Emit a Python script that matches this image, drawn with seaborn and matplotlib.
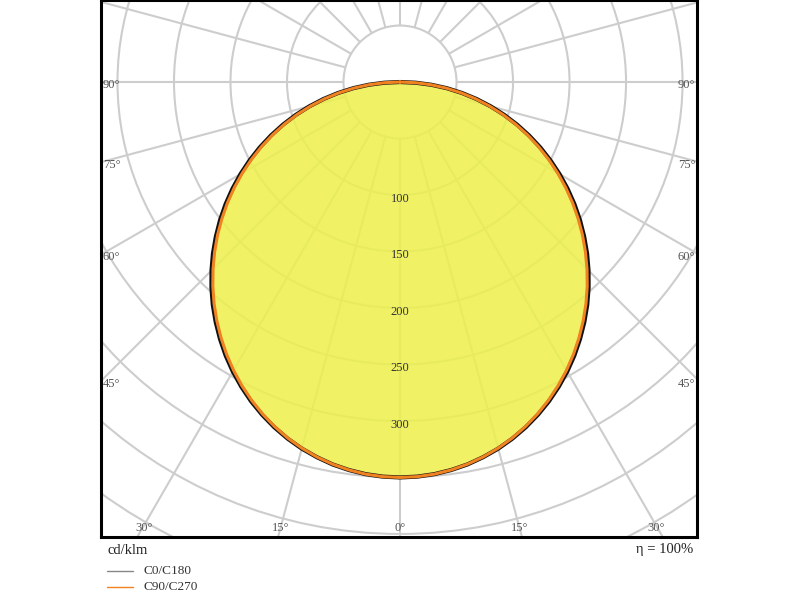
import numpy as np
import pandas as pd
import matplotlib.pyplot as plt
import seaborn as sns
from matplotlib.patches import Circle
from matplotlib.lines import Line2D

# Luminous intensity (cd/klm), gamma 0..90 deg (symmetric halves)
gamma = [0, 2.5, 5, 7.5, 10, 12.5, 15, 17.5, 20, 22.5, 25, 27.5, 30, 32.5, 35, 37.5,
         40, 42.5, 45, 47.5, 50, 52.5, 55, 57.5, 60, 62.5, 65, 67.5, 70, 72.5, 75,
         77.5, 80, 82.5, 85, 87.5, 90]
c0_c180 = [350, 349.6, 348.4, 346.4, 343.7, 340.1, 335.9, 330.9, 325.2, 318.8, 311.8,
           304.1, 295.9, 287.1, 277.7, 267.9, 257.7, 247.0, 235.9, 224.5, 212.7, 200.7,
           188.4, 175.8, 163.0, 150.0, 136.9, 123.6, 110.2, 96.6, 83.0, 69.3, 55.5,
           41.7, 27.8, 13.9, 0]
c90_c270 = [350, 349.6, 348.4, 346.3, 343.5, 339.9, 335.5, 330.4, 324.5, 318.0, 310.8,
            303.0, 294.6, 285.7, 276.2, 266.3, 256.0, 245.2, 234.0, 222.5, 210.8, 198.7,
            186.4, 173.8, 161.1, 148.2, 135.2, 122.0, 108.7, 95.3, 81.8, 68.3, 54.7,
            41.0, 27.4, 13.7, 0]
ring_labels = [100, 150, 200, 250, 300]
side_angles = [90, 75, 60, 45]
bottom_angles = [0, 15, 30]

sns.set_style('white')
plt.rcParams['font.family'] = ['Liberation Serif', 'DejaVu Serif']


def curve(vals):
    ang = np.r_[-np.array(gamma[::-1]), np.array(gamma[1:])]
    inten = np.r_[np.array(vals[::-1]), np.array(vals[1:])]
    t = np.deg2rad(ang)
    return pd.DataFrame({'x': inten * np.sin(t), 'y': inten * np.cos(t)})


fig = plt.figure(figsize=(8, 6), dpi=100)
ax = fig.add_axes([101 / 800, 63 / 600, 596 / 800, 537 / 600])

xmin, xmax = -264.6, 262.8
ymin, ymax = -72.6, 402.7
ax.set_xlim(xmin, xmax)
ax.set_ylim(ymax, ymin)

grid_c = '#cdcdcd'
# rings
for r in range(50, 600, 50):
    ax.add_patch(Circle((0, 0), r, fill=False, ec=grid_c, lw=1.5, zorder=1))
# spokes every 15 degrees, starting at the innermost ring
for a in range(0, 360, 15):
    t = np.deg2rad(a)
    ax.plot([50 * np.sin(t), 700 * np.sin(t)], [50 * np.cos(t), 700 * np.cos(t)],
            color=grid_c, lw=1.5, zorder=1, solid_capstyle='butt')

d0 = curve(c0_c180)
d90 = curve(c90_c270)
ax.fill(d0['x'], d0['y'], color='#eef04e', alpha=0.87, zorder=2, lw=0)
sns.lineplot(data=d0, x='x', y='y', sort=False, estimator=None, color='#111111', lw=3.0, ax=ax, zorder=3)
sns.lineplot(data=d90, x='x', y='y', sort=False, estimator=None, color='#f08222', lw=2.2, ax=ax, zorder=4)

# intensity labels on the vertical axis
for r in ring_labels:
    ax.text(0, r + 3.5, str(r), ha='center', va='center', fontsize=9, color='#333333', zorder=5)

# angle labels along the frame
for a in side_angles:
    y = 0 if a == 90 else -xmin / np.tan(np.deg2rad(a))
    ax.text(xmin + 1.5, y + 2.5, f'{a}°', ha='left', va='center', fontsize=9, color='#555555', zorder=5)
    ax.text(xmax - 1.5, y + 2.5, f'{a}°', ha='right', va='center', fontsize=9, color='#555555', zorder=5)
for a in bottom_angles:
    x = ymax * np.tan(np.deg2rad(a))
    shift = {0: 0, 15: 2, 30: 6}[a]
    ax.text(-(x - shift), ymax - 3, f'{a}°', ha='center', va='bottom', fontsize=9, color='#555555', zorder=5)
    if a:
        ax.text(x - shift, ymax - 3, f'{a}°', ha='center', va='bottom', fontsize=9, color='#555555', zorder=5)

ax.set_xticks([])
ax.set_yticks([])
ax.set_xlabel('')
ax.set_ylabel('')
for s in ax.spines.values():
    s.set_visible(True)
    s.set_color('black')
    s.set_linewidth(2.2)
    s.set_zorder(6)

# annotations below the frame
fig.text(107 / 800, 1 - 550 / 600, 'cd/klm', ha='left', va='center', fontsize=10.5, color='#222222')
fig.text(693 / 800, 1 - 550 / 600, 'η = 100%', ha='right', va='center', fontsize=10.5, color='#222222')
for yy, col, lab in [(571, '#888888', 'C0/C180'), (587, '#f08222', 'C90/C270')]:
    fig.add_artist(Line2D([107 / 800, 133 / 800], [1 - yy / 600, 1 - yy / 600], color=col, lw=1))
    fig.text(143 / 800, 1 - yy / 600, lab, ha='left', va='center', fontsize=9.5, color='#333333')

fig.savefig('out.png', dpi=100)
